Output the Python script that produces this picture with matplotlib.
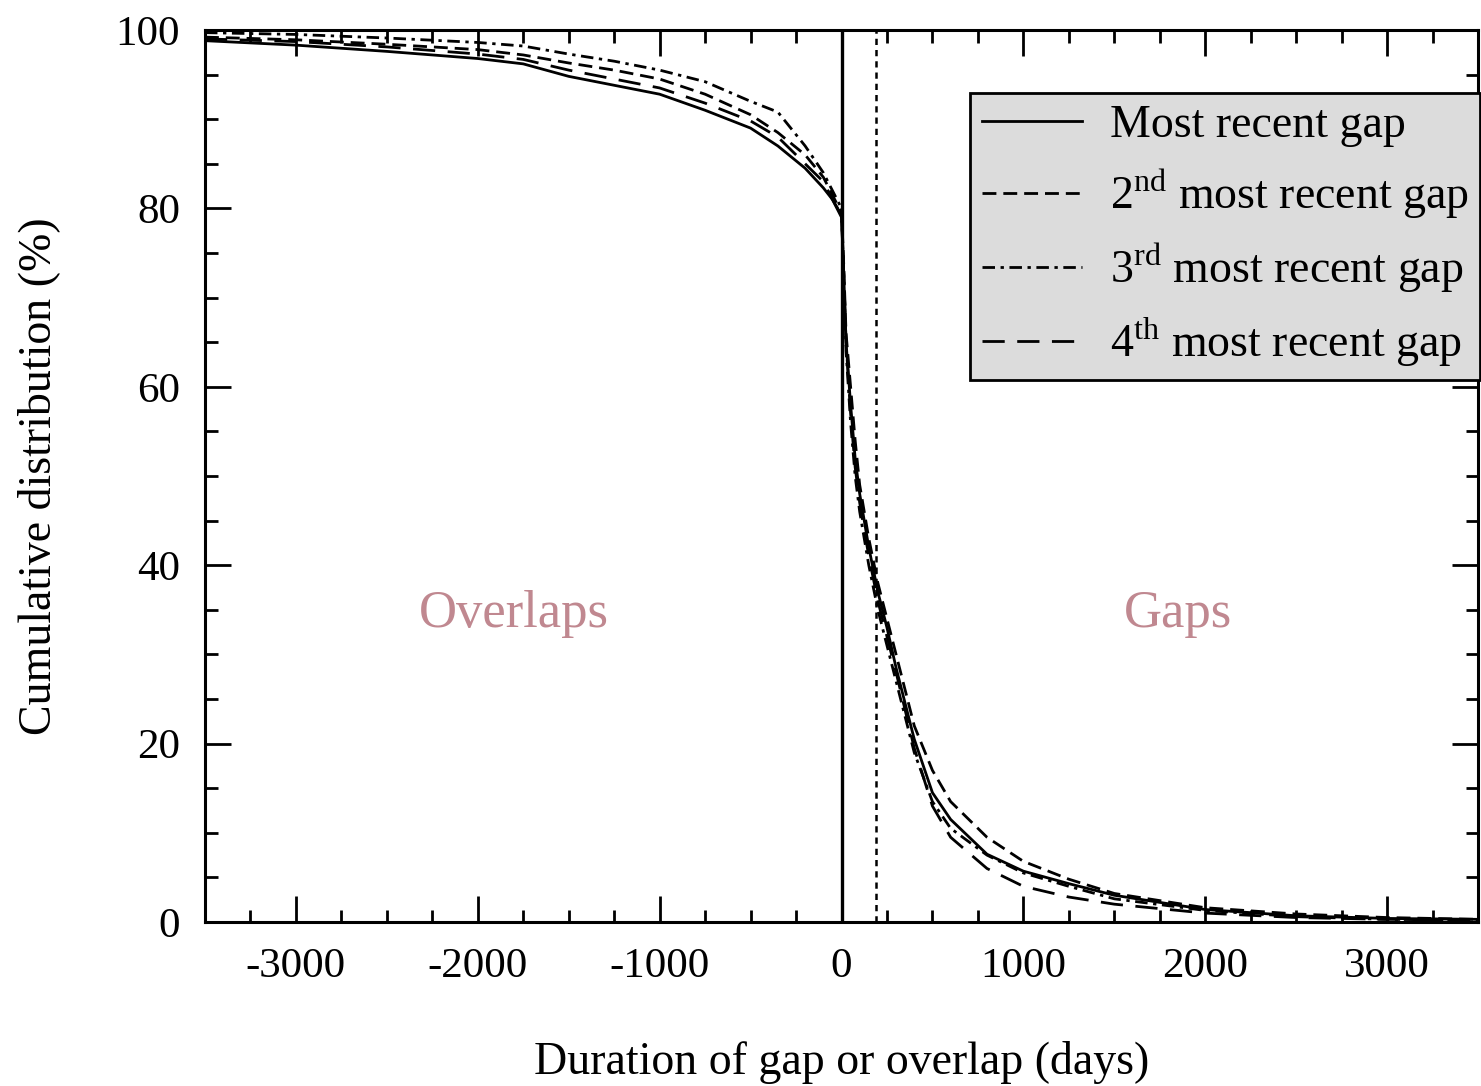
import matplotlib
matplotlib.use("Agg")
import matplotlib.pyplot as plt
from matplotlib.ticker import MultipleLocator

### DATA ###
days = [-3500, -3000, -2500, -2000, -1750, -1500, -1250, -1000, -750, -500, -350, -200, -100, -50, 0,
        10, 25, 50, 75, 100, 150, 200, 250, 300, 400, 500, 600, 800, 1000, 1250, 1500, 2000, 2500, 3000, 3500]

gap_1 = [98.8, 98.3, 97.6, 96.8, 96.2, 94.8, 93.8, 92.8, 91.0, 89.0, 87.0, 84.5, 82.3, 81.0, 79.0,
         74, 65, 58, 52, 48, 42, 37, 33, 28.5, 20.5, 14.5, 11.5, 7.6, 5.7, 4.3, 3.0, 1.4, 0.7, 0.4, 0.3]
gap_2 = [99.2, 98.9, 98.4, 97.8, 97.2, 96.3, 95.5, 94.5, 92.8, 90.5, 88.5, 86.0, 83.5, 81.5, 79.5,
         75, 66, 60, 54, 49, 43, 38, 34, 30, 22, 17, 13.5, 9.5, 6.8, 4.8, 3.2, 1.6, 0.9, 0.5, 0.3]
gap_3 = [99.7, 99.5, 99.1, 98.6, 98.2, 97.3, 96.5, 95.5, 94.2, 92.0, 90.8, 87.0, 84.0, 82.0, 80.0,
         74, 64, 56, 50, 46, 40, 35, 31, 27, 19, 13.5, 10.5, 7.5, 5.5, 4.0, 2.6, 1.3, 0.6, 0.3, 0.2]
gap_4 = [99.0, 98.7, 98.1, 97.3, 96.7, 95.5, 94.5, 93.5, 91.8, 89.8, 88.0, 85.0, 83.0, 81.0, 79.3,
         74, 65, 57, 51, 47, 41, 36, 32, 28, 19.5, 13, 9.5, 6.0, 4.0, 2.8, 2.0, 1.0, 0.5, 0.3, 0.2]

labels = ["Most recent gap",
          "2$^{\\rm nd}$ most recent gap",
          "3$^{\\rm rd}$ most recent gap",
          "4$^{\\rm th}$ most recent gap"]

CUTOFF = 190  # days, dotted reference line

### STYLE ###
plt.rcParams["font.family"] = ["Liberation Serif", "DejaVu Serif"]
plt.rcParams["mathtext.fontset"] = "custom"
plt.rcParams["mathtext.rm"] = "Liberation Serif"
plt.rcParams["axes.unicode_minus"] = False

fig = plt.figure(figsize=(14.81, 10.86), dpi=100)
ax = fig.add_axes([0.1384, 0.151, 0.8596, 0.8214])

styles = [
    dict(linestyle="-"),
    dict(linestyle=(0, (5, 2.5))),
    dict(linestyle=(0, (4.5, 2, 1.2, 2))),
    dict(linestyle=(0, (8, 4.5))),
]
for ys, lab, st in zip([gap_1, gap_2, gap_3, gap_4], labels, styles):
    ax.plot(days, ys, color="black", linewidth=2.0, label=lab, **st)

ax.axvline(0, color="black", linewidth=2.4)
ax.axvline(CUTOFF, color="black", linewidth=1.8, linestyle=(0, (2.5, 2)))

ax.text(-1800, 34.5, "Overlaps", color="#c08890", fontsize=38, ha="center", va="center")
ax.text(1850, 34.5, "Gaps", color="#c08890", fontsize=38, ha="center", va="center")

ax.set_xlim(-3500, 3500)
ax.set_ylim(0, 100)
ax.xaxis.set_major_locator(MultipleLocator(1000))
ax.xaxis.set_minor_locator(MultipleLocator(250))
ax.yaxis.set_major_locator(MultipleLocator(20))
ax.yaxis.set_minor_locator(MultipleLocator(5))
ax.tick_params(which="both", direction="in", top=True, right=True, width=2, labelsize=31)
ax.tick_params(which="major", length=19, pad=18)
ax.tick_params(which="minor", length=9)
for sp in ax.spines.values():
    sp.set_linewidth(2.2)

ax.set_xlabel("Duration of gap or overlap (days)", fontsize=33, labelpad=40)
ax.set_ylabel("Cumulative distribution (%)", fontsize=33, labelpad=40)

leg = ax.legend(loc="upper left", bbox_to_anchor=(0.601, 0.929), borderaxespad=0, fontsize=33,
                frameon=True, fancybox=False, framealpha=1, facecolor="#dcdcdc", edgecolor="black",
                handlelength=2.2, labelspacing=0.42, borderpad=0.25, handletextpad=0.6)
leg.get_frame().set_linewidth(2)

fig.savefig("out.png", dpi=100)
